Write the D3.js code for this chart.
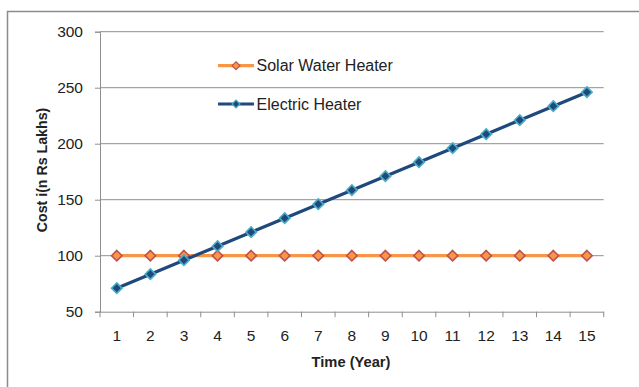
<!DOCTYPE html>
<html>
<head>
<meta charset="utf-8">
<script src="https://cdn.jsdelivr.net/npm/d3@7"></script>
<style>
  html, body { margin: 0; padding: 0; background: #fff; }
  svg { display: block; font-family: "Liberation Sans", Arial, sans-serif; }
</style>
</head>
<body>
<svg id="chart" width="639" height="387"></svg>
<script>
// Cost comparison over 15 years
const years = ["1","2","3","4","5","6","7","8","9","10","11","12","13","14","15"];
const solarCost = [100,100,100,100,100,100,100,100,100,100,100,100,100,100,100];
const electricCost = [71,83.5,96,108.5,121,133.5,146,158.5,171,183.5,196,208.5,221,233.5,246];
const yTicks = [50,100,150,200,250,300];
const seriesNames = ["Solar Water Heater", "Electric Heater"];

const svg = d3.select("#chart");
const W = 639, H = 387;
const plot = { left: 100, right: 603.7, top: 31.7, bottom: 311.7 };

// outer chart frame (extends past the right and bottom edges)
svg.append("rect")
  .attr("x", 7.5).attr("y", 11.5)
  .attr("width", W + 20).attr("height", H + 20)
  .attr("fill", "#fff").attr("stroke", "#8c8c8c").attr("stroke-width", 1.5);

const x = d3.scaleBand().domain(years).range([plot.left, plot.right]);
const y = d3.scaleLinear().domain([50, 300]).range([plot.bottom, plot.top]);

// horizontal gridlines
svg.append("g")
  .selectAll("line").data(yTicks.filter(d => d !== 50)).join("line")
  .attr("x1", plot.left).attr("x2", plot.right)
  .attr("y1", d => y(d)).attr("y2", d => y(d))
  .attr("stroke", "#8e8e8e").attr("stroke-width", 1);

// y axis
const yAxis = svg.append("g")
  .attr("transform", `translate(${plot.left},0)`)
  .call(d3.axisLeft(y).tickValues(yTicks).tickSize(5).tickPadding(12));
yAxis.select(".domain").attr("stroke", "#8e8e8e");
yAxis.selectAll(".tick line").attr("stroke", "#8e8e8e");
yAxis.selectAll(".tick text")
  .attr("font-family", "Liberation Sans, Arial, sans-serif")
  .attr("font-size", 15.5).attr("fill", "#222");

// x axis with tick marks between categories
const xAxis = svg.append("g")
  .attr("transform", `translate(0,${plot.bottom})`)
  .call(d3.axisBottom(x).tickSize(0).tickPadding(18));
xAxis.select(".domain").attr("stroke", "#8e8e8e");
xAxis.selectAll(".tick text")
  .attr("font-family", "Liberation Sans, Arial, sans-serif")
  .attr("font-size", 15.5).attr("fill", "#222");
svg.append("g")
  .selectAll("line").data(years.concat(["end"])).join("line")
  .attr("x1", (d, i) => plot.left + i * x.step())
  .attr("x2", (d, i) => plot.left + i * x.step())
  .attr("y1", plot.bottom).attr("y2", plot.bottom + 5.5)
  .attr("stroke", "#8e8e8e");

// axis titles
svg.append("text")
  .attr("transform", `translate(47,170) rotate(-90)`)
  .attr("text-anchor", "middle")
  .attr("font-size", 14.2).attr("font-weight", "bold").attr("fill", "#222")
  .text("Cost i(n Rs Lakhs)");
svg.append("text")
  .attr("x", 351).attr("y", 367)
  .attr("text-anchor", "middle")
  .attr("font-size", 14.7).attr("font-weight", "bold").attr("fill", "#222")
  .text("Time (Year)");

const series = [
  { name: seriesNames[0], values: solarCost, line: "#f79646", fill: "#f79646", edge: "#c0504d" },
  { name: seriesNames[1], values: electricCost, line: "#1f497d", fill: "#1f497d", edge: "#4bacc6" }
];

const cx = d => x(d) + x.bandwidth() / 2;
const lineGen = d3.line().x(d => cx(d.year)).y(d => y(d.value));
const diamond = d3.symbol().type(d3.symbolDiamond2);

series.forEach(s => {
  const pts = years.map((yr, i) => ({ year: yr, value: s.values[i] }));
  svg.append("path")
    .datum(pts)
    .attr("d", lineGen)
    .attr("fill", "none").attr("stroke", s.line).attr("stroke-width", 3.2)
    .attr("stroke-linejoin", "round");
  svg.append("g")
    .selectAll("path").data(pts).join("path")
    .attr("transform", d => `translate(${cx(d.year)},${y(d.value)})`)
    .attr("d", diamond.size(70))
    .attr("fill", s.fill).attr("stroke", s.edge).attr("stroke-width", 1.6);
});

// legend
const legend = svg.append("g");
series.forEach((s, i) => {
  const ly = 65.7 + i * 38.3;
  legend.append("line")
    .attr("x1", 218).attr("x2", 254).attr("y1", ly).attr("y2", ly)
    .attr("stroke", s.line).attr("stroke-width", 3.2);
  legend.append("path")
    .attr("transform", `translate(236,${ly})`)
    .attr("d", diamond.size(40))
    .attr("fill", s.fill).attr("stroke", s.edge).attr("stroke-width", 1.2);
  legend.append("text")
    .attr("x", 256.5).attr("y", ly + 5.7)
    .attr("font-size", 16).attr("fill", "#222")
    .text(s.name);
});
</script>
</body>
</html>
